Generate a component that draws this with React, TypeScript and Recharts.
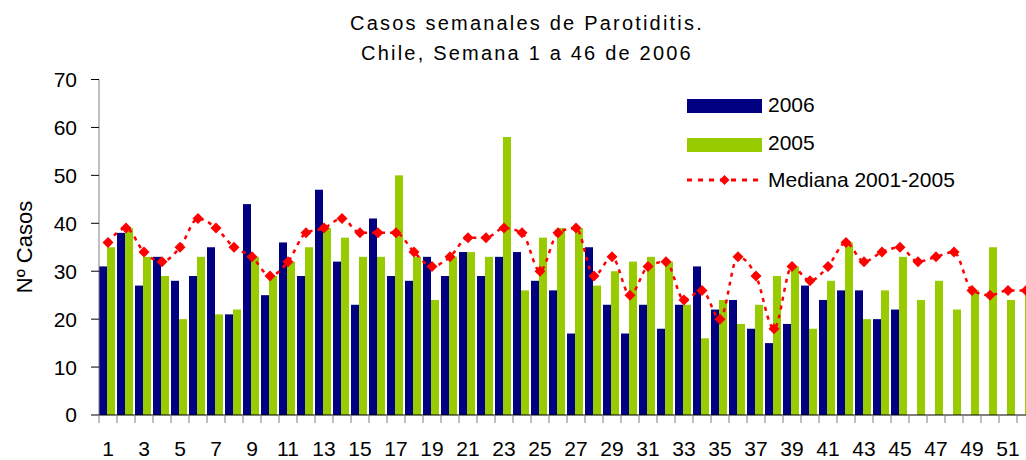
import { Bar, ComposedChart, Line, XAxis, YAxis } from "recharts";

const FONT = '"Liberation Sans", Arial, sans-serif';

const semanas = [
  1, 2, 3, 4, 5, 6, 7, 8, 9, 10, 11, 12, 13, 14, 15, 16, 17, 18, 19, 20, 21, 22, 23, 24, 25, 26,
  27, 28, 29, 30, 31, 32, 33, 34, 35, 36, 37, 38, 39, 40, 41, 42, 43, 44, 45, 46, 47, 48, 49, 50, 51, 52,
];

// 2006: semanas 1 a 45 con barra
const casos2006 = [
  31, 38, 27, 33, 28, 29, 35, 21, 44, 25, 36, 29, 47, 32, 23, 41, 29, 28, 33, 29, 34, 29, 33, 34, 28, 26,
  17, 35, 23, 17, 23, 18, 23, 31, 22, 24, 18, 15, 19, 27, 24, 26, 26, 20, 22,
];

const casos2005 = [
  35, 39, 33, 29, 20, 33, 21, 22, 33, 29, 32, 35, 39, 37, 33, 33, 50, 33, 24, 33, 34, 33, 58, 26, 37, 39,
  39, 27, 30, 32, 33, 32, 23, 16, 24, 19, 23, 29, 31, 18, 28, 36, 20, 26, 33, 24, 28, 22, 26, 35, 24, 25,
];

const mediana = [
  36, 39, 34, 32, 35, 41, 39, 35, 33, 29, 32, 38, 39, 41, 38, 38, 38, 34, 31, 33, 37, 37, 39, 38, 30, 38,
  39, 29, 33, 25, 31, 32, 24, 26, 20, 33, 29, 18, 31, 28, 31, 36, 32, 34, 35, 32, 33, 34, 26, 25, 26, 26,
];

const yTicks = [0, 10, 20, 30, 40, 50, 60, 70];

const data = semanas.map((s, i) => ({
  semana: s,
  c2006: casos2006[i] ?? null,
  c2005: casos2005[i],
  mediana: mediana[i],
}));

const NAVY = "#000080";
const GREEN = "#99CC00";
const RED = "#FF0000";

function SemanaTick(props: any) {
  const { x, y, payload } = props;
  const s = Number(payload.value);
  return (
    <g>
      <line x1={x - 9} x2={x - 9} y1={y} y2={y + 8} stroke="#808080" />
      {s % 2 === 1 && (
        <text x={x} y={y + 41} textAnchor="middle" fontSize={21} fontFamily={FONT} fill="#000">
          {s}
        </text>
      )}
    </g>
  );
}

function barShape(p: any) {
  if (!p.height) return <g />;
  return <rect x={p.x - 1} y={p.y} width={p.width} height={p.height} fill={p.fill} />;
}

function diamond(p: any) {
  const { cx, cy, index } = p;
  if (cx == null || cy == null) return <g key={`d-${index}`} />;
  const r = 5.5;
  return (
    <polygon
      key={`d-${index}`}
      points={`${cx},${cy - r} ${cx + r},${cy} ${cx},${cy + r} ${cx - r},${cy}`}
      fill={RED}
    />
  );
}

export default function App() {
  return (
    <div
      style={{
        position: "absolute",
        left: 0,
        top: 0,
        width: 1026,
        height: 460,
        overflow: "hidden",
        background: "#fff",
      }}
    >
      <ComposedChart
        width={1035}
        height={460}
        data={data}
        margin={{ top: 79.5, right: 0, bottom: 0, left: 0 }}
        barGap={0}
      >
        <XAxis
          dataKey="semana"
          interval={0}
          height={45}
          tickSize={0}
          tickMargin={0}
          axisLine={{ stroke: "#000" }}
          tickLine={false}
          tick={<SemanaTick />}
        />
        <YAxis
          type="number"
          domain={[0, 70]}
          ticks={yTicks}
          width={99}
          tickSize={8}
          tickMargin={14}
          axisLine={{ stroke: "#808080" }}
          tickLine={{ stroke: "#000" }}
          tick={{ fontSize: 21, fill: "#000", fontFamily: FONT }}
        />
        <Bar dataKey="c2006" fill={NAVY} barSize={8} shape={barShape} isAnimationActive={false} />
        <Bar dataKey="c2005" fill={GREEN} barSize={8} shape={barShape} isAnimationActive={false} />
        <Line
          dataKey="mediana"
          type="monotone"
          stroke={RED}
          strokeWidth={2.5}
          strokeDasharray="4 5"
          dot={diamond}
          activeDot={false}
          isAnimationActive={false}
        />
      </ComposedChart>
      <svg
        width={1026}
        height={460}
        style={{ position: "absolute", left: 0, top: 0, pointerEvents: "none" }}
        fontFamily={FONT}
      >
        <text x={527} y={29.5} textAnchor="middle" fontSize={20} letterSpacing={2.2} fill="#000">
          Casos semanales de Parotiditis.
        </text>
        <text x={527} y={59.5} textAnchor="middle" fontSize={20} letterSpacing={2.2} fill="#000">
          Chile, Semana 1 a 46 de 2006
        </text>
        <text transform="translate(32,247) rotate(-90)" textAnchor="middle" fontSize={22} fill="#000">
          Nº Casos
        </text>
        <rect x={687} y={99} width={75} height={14} fill={NAVY} />
        <text x={768} y={112} fontSize={21} fill="#000">2006</text>
        <rect x={687} y={138} width={75} height={14} fill={GREEN} />
        <text x={768} y={150} fontSize={21} fill="#000">2005</text>
        <line x1={687} x2={762} y1={180} y2={180} stroke={RED} strokeWidth={3} strokeDasharray="5 6" />
        <polygon points="724.5,175 729.5,180 724.5,185 719.5,180" fill={RED} />
        <text x={768} y={187} fontSize={21} fill="#000">Mediana 2001-2005</text>
      </svg>
    </div>
  );
}
